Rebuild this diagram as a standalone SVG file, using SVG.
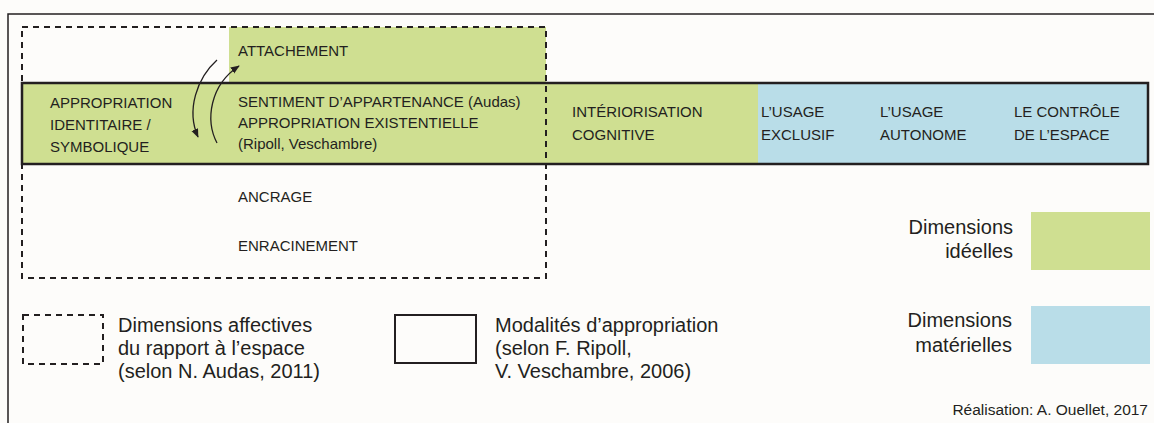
<svg xmlns="http://www.w3.org/2000/svg" width="1154" height="423" viewBox="0 0 1154 423">
<style>
text{font-family:"Liberation Sans",Arial,sans-serif;fill:#231f20}
.b{font-size:15px}
.l{font-size:20px}
.r{text-anchor:end}
.dash{fill:none;stroke:#231f20;stroke-width:2;stroke-dasharray:6 5}
.arr{fill:none;stroke:#231f20;stroke-width:1.3}
</style>
<defs>
<marker id="ah" viewBox="0 0 10 10" refX="9" refY="5" markerWidth="9" markerHeight="9" markerUnits="userSpaceOnUse" orient="auto">
<path d="M0,1 L10,5 L0,9 Z" fill="#231f20"/>
</marker>
</defs>
<rect x="0" y="0" width="1154" height="423" fill="#fdfcfa"/>
<g id="frame">
<path d="M8,423 V14 H1154" fill="none" stroke="#231f20" stroke-width="1.5"/>
</g>
<g id="attachement">
<rect x="229" y="27" width="317" height="57" fill="#cfdf91"/>
<text class="b" x="238" y="56">ATTACHEMENT</text>
</g>
<g id="band">
<rect x="22" y="83" width="736" height="81" fill="#cfdf91"/>
<rect x="758" y="83" width="390" height="81" fill="#b9dde8"/>
<rect x="22" y="83" width="1126" height="81" fill="none" stroke="#231f20" stroke-width="2.5"/>
</g>
<g id="affective-box">
<rect class="dash" x="22" y="27" width="524" height="251"/>
</g>
<g id="identitaire">
<text class="b" x="50" y="108">APPROPRIATION</text>
<text class="b" x="50" y="130">IDENTITAIRE /</text>
<text class="b" x="50" y="152">SYMBOLIQUE</text>
</g>
<g id="sentiment">
<text class="b" x="238" y="107">SENTIMENT D’APPARTENANCE (Audas)</text>
<text class="b" x="238" y="128">APPROPRIATION EXISTENTIELLE</text>
<text class="b" x="238" y="149">(Ripoll, Veschambre)</text>
</g>
<g id="interiorisation">
<text class="b" x="572" y="117">INTÉRIORISATION</text>
<text class="b" x="572" y="140">COGNITIVE</text>
</g>
<g id="usage-exclusif">
<text class="b" x="761" y="117">L’USAGE</text>
<text class="b" x="761" y="140">EXCLUSIF</text>
</g>
<g id="usage-autonome">
<text class="b" x="880" y="117">L’USAGE</text>
<text class="b" x="880" y="140">AUTONOME</text>
</g>
<g id="controle">
<text class="b" x="1014" y="117">LE CONTRÔLE</text>
<text class="b" x="1014" y="140">DE L’ESPACE</text>
</g>
<g id="ancrage"><text class="b" x="238" y="202">ANCRAGE</text></g>
<g id="enracinement"><text class="b" x="238" y="251">ENRACINEMENT</text></g>
<g id="connectors">
<path class="arr" d="M217,60 C197,78 186,110 198,137" marker-end="url(#ah)"/>
<path class="arr" d="M217,143 C205,120 210,85 239,66" marker-end="url(#ah)"/>
</g>
<g id="legend-affective">
<rect class="dash" x="23" y="315" width="80" height="49"/>
<text class="l" x="118" y="332">Dimensions affectives</text>
<text class="l" x="118" y="355">du rapport à l’espace</text>
<text class="l" x="118" y="378">(selon N. Audas, 2011)</text>
</g>
<g id="legend-modalites">
<rect x="395" y="315" width="81" height="48" fill="none" stroke="#231f20" stroke-width="2"/>
<text class="l" x="495" y="332">Modalités d’appropriation</text>
<text class="l" x="495" y="355">(selon F. Ripoll,</text>
<text class="l" x="495" y="378">V. Veschambre, 2006)</text>
</g>
<g id="legend-ideelles">
<text class="l r" x="1013" y="234">Dimensions</text>
<text class="l r" x="1013" y="258">idéelles</text>
<rect x="1031" y="212" width="119" height="58" fill="#cfdf91"/>
</g>
<g id="legend-materielles">
<text class="l r" x="1012" y="327">Dimensions</text>
<text class="l r" x="1012" y="352">matérielles</text>
<rect x="1031" y="306" width="119" height="58" fill="#b9dde8"/>
</g>
<g id="credit">
<text class="r" x="1148" y="415" font-size="15.5">Réalisation: A. Ouellet, 2017</text>
</g>
</svg>
